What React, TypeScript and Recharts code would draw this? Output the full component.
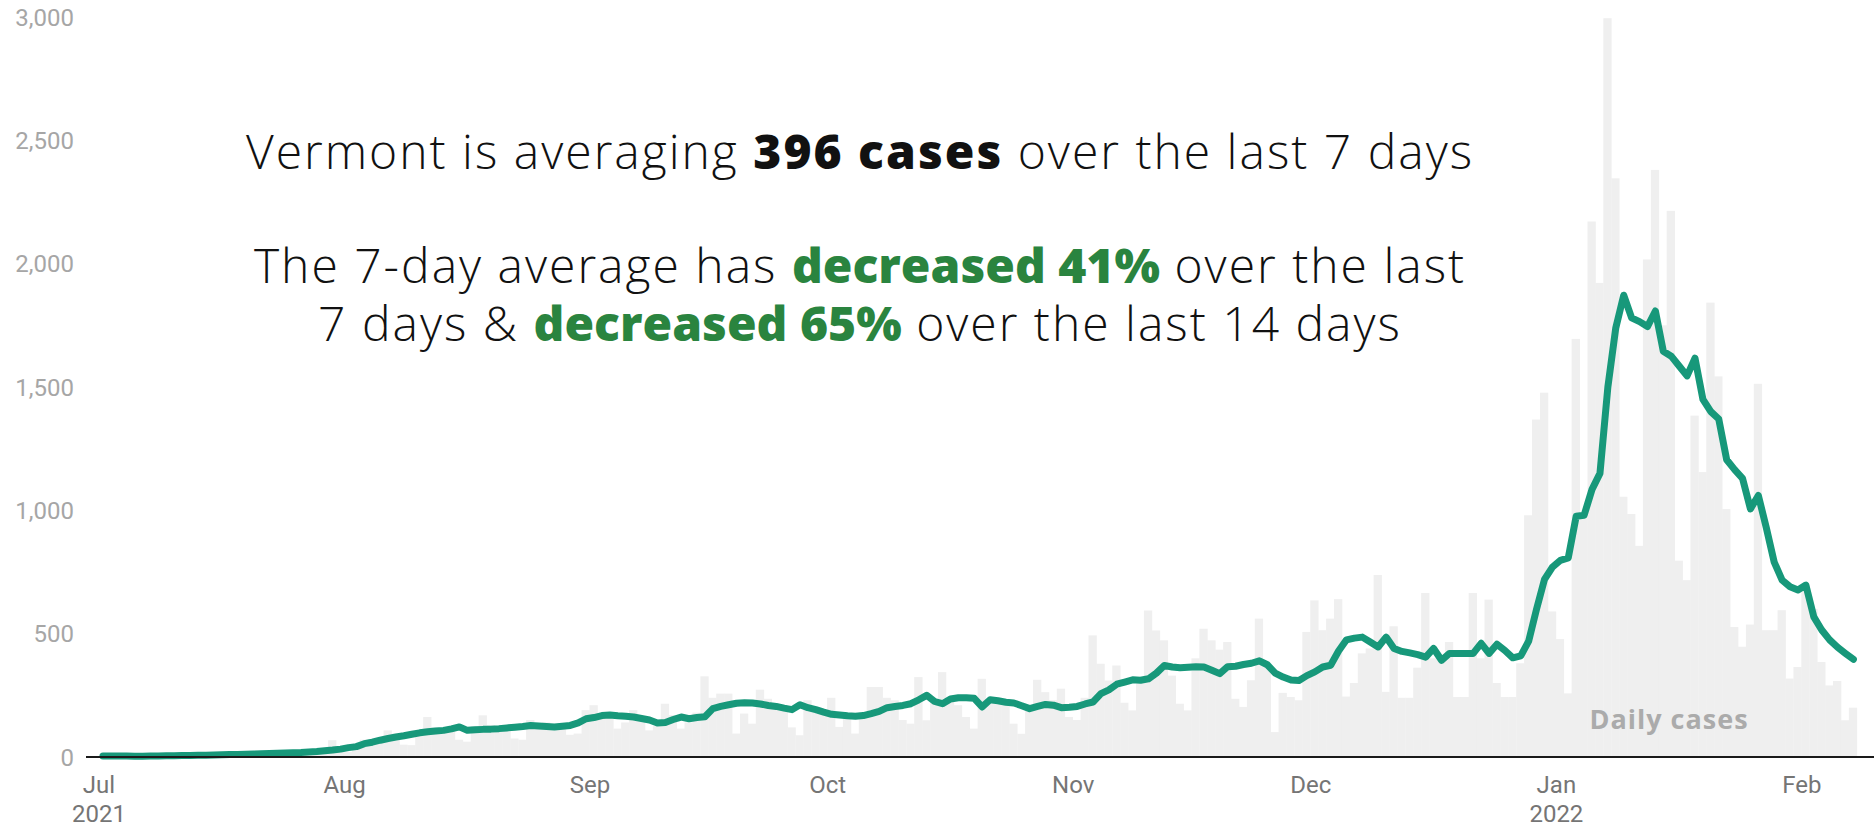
import React from 'react';
import { ComposedChart, Bar, Line, XAxis, YAxis } from 'recharts';

// Daily cases, Vermont, Jul 1 2021 -> Feb 7 2022
const dailyJul = [5, 8, 3, 2, 1, 4, 6, 5, 7, 4, 3, 2, 9, 10, 12, 8, 10, 5, 4, 16, 15, 14, 18, 20, 9, 6, 28, 30, 32, 68, 30];
const dailyAug = [20, 45, 70, 72, 65, 108, 95, 50, 48, 110, 162, 120, 115, 105, 70, 62, 125, 169, 130, 120, 110, 75, 70, 150, 115, 140, 128, 120, 90, 95, 190];
const dailySep = [210, 175, 160, 115, 140, 190, 150, 108, 125, 216, 170, 115, 140, 180, 327, 240, 257, 257, 95, 176, 135, 273, 236, 215, 200, 120, 88, 230, 190, 175];
const dailyOct = [240, 122, 160, 95, 180, 284, 284, 240, 230, 150, 135, 324, 149, 230, 344, 240, 210, 162, 115, 317, 230, 225, 210, 135, 94, 200, 313, 263, 230, 277, 162];
const dailyNov = [150, 240, 493, 378, 310, 371, 220, 189, 300, 594, 513, 473, 330, 216, 189, 400, 520, 473, 435, 466, 236, 203, 311, 561, 380, 101, 260, 243, 230, 507];
const dailyDec = [635, 514, 561, 640, 245, 300, 420, 440, 738, 264, 530, 240, 240, 362, 665, 400, 405, 466, 243, 243, 665, 400, 638, 300, 243, 243, 380, 980, 1368, 1477, 590];
const dailyJan = [478, 258, 1695, 985, 2171, 1922, 2995, 2346, 1055, 985, 856, 2017, 2380, 1750, 2214, 796, 717, 1384, 1155, 1842, 1543, 1005, 527, 447, 537, 1513, 514, 514, 595, 318, 365];
const dailyFeb = [697, 600, 385, 290, 308, 149, 200];

// 7-day average
const avgJul = [4, 4, 4, 4, 3, 3, 4, 4, 5, 5, 6, 6, 7, 7, 8, 9, 10, 10, 11, 12, 13, 14, 15, 16, 17, 18, 20, 22, 25, 28, 32];
const avgAug = [38, 42, 54, 60, 68, 75, 81, 86, 92, 98, 102, 105, 108, 114, 122, 108, 110, 112, 113, 115, 118, 121, 124, 128, 126, 124, 122, 125, 128, 138, 155];
const avgSep = [160, 168, 170, 167, 165, 162, 156, 150, 138, 140, 152, 162, 155, 160, 163, 196, 205, 212, 218, 220, 219, 215, 209, 205, 198, 192, 212, 200, 192, 182];
const avgOct = [173, 170, 167, 165, 168, 176, 185, 200, 205, 209, 216, 232, 250, 225, 216, 235, 240, 240, 238, 203, 232, 228, 222, 219, 208, 196, 205, 213, 210, 200, 202];
const avgNov = [205, 215, 223, 257, 272, 295, 304, 313, 311, 317, 340, 371, 365, 362, 364, 366, 365, 352, 338, 366, 368, 375, 380, 390, 374, 340, 324, 312, 310, 330];
const avgDec = [345, 365, 372, 430, 475, 482, 486, 466, 446, 486, 440, 428, 422, 415, 405, 440, 392, 420, 420, 420, 420, 461, 420, 457, 432, 402, 410, 470, 600, 720, 770];
const avgJan = [797, 807, 976, 980, 1085, 1150, 1500, 1740, 1872, 1780, 1765, 1745, 1808, 1645, 1625, 1585, 1545, 1617, 1450, 1400, 1370, 1205, 1165, 1130, 1006, 1060, 930, 790, 717, 690, 677];
const avgFeb = [697, 568, 515, 475, 445, 420, 396];

const monthLabels = ['Jul', 'Aug', 'Sep', 'Oct', 'Nov', 'Dec', 'Jan', 'Feb'];
const yearLabels: Record<string, string> = { Jul: '2021', Jan: '2022' };
const yTicks = [0, 500, 1000, 1500, 2000, 2500, 3000];

const dailyMonths = [dailyJul, dailyAug, dailySep, dailyOct, dailyNov, dailyDec, dailyJan, dailyFeb];
const avgMonths = [avgJul, avgAug, avgSep, avgOct, avgNov, avgDec, avgJan, avgFeb];

const daily = dailyMonths.flat();
const avg = avgMonths.flat();
const data = daily.map((cases, i) => ({ day: i, cases, avg: avg[i] }));

// month boundaries (a tick sits at the left edge of the 1st of each month)
const monthTicks: number[] = [];
dailyMonths.reduce((start, m) => {
  monthTicks.push(start - 0.5);
  return start + m.length;
}, 0);

const MonthTick = ({ x, y, payload }: any) => {
  const label = monthLabels[monthTicks.indexOf(payload.value)];
  const year = yearLabels[label];
  return (
    <g fontFamily="Roboto" fontSize={24} fill="#757575" textAnchor="middle">
      <text x={x} y={y + 28}>{label}</text>
      {year && <text x={x} y={y + 57}>{year}</text>}
    </g>
  );
};

// bars touch each other, like a stepped area
const BAR_W = 8.3;
const WideBar = (props: any) => {
  const { x, y, width, height, fill } = props;
  if (!height || height <= 0) return null;
  const cx = x + width / 2;
  return <rect x={cx - BAR_W / 2} y={y} width={BAR_W} height={height} fill={fill} />;
};

const green = '#2a843f';
const textFont = '"Open Sans", sans-serif';
const greenBold = { color: green, fontWeight: 800, letterSpacing: 0 };

export default function App() {
  return (
    <div style={{ position: 'absolute', left: 0, top: 0, width: 1874, height: 827, background: '#fff', overflow: 'hidden' }}>
      <ComposedChart
        width={1874}
        height={827}
        data={data}
        margin={{ top: 17, right: 0, left: 0, bottom: 0 }}
      >
        <XAxis
          type="number"
          dataKey="day"
          domain={[-2.14, 223.6]}
          allowDataOverflow
          ticks={monthTicks}
          interval={0}
          tick={<MonthTick />}
          tickLine={false}
          axisLine={{ stroke: '#1a1a1a', strokeWidth: 2 }}
          height={70}
        />
        <YAxis
          domain={[0, 3000]}
          ticks={yTicks}
          interval={0}
          axisLine={false}
          tickLine={false}
          width={86}
          tickMargin={6}
          tickFormatter={(v: number) => v.toLocaleString('en-US')}
          tick={{ fill: '#a6a6a6', fontSize: 24, fontFamily: 'Roboto' }}
        />
        <Bar dataKey="cases" fill="#efefef" barSize={8} shape={<WideBar />} isAnimationActive={false} />
        <Line
          type="linear"
          dataKey="avg"
          stroke="#17987a"
          strokeWidth={7}
          strokeLinecap="round"
          strokeLinejoin="round"
          dot={false}
          activeDot={false}
          isAnimationActive={false}
        />
      </ComposedChart>

      <div style={{ position: 'absolute', left: 0, top: 0, width: 1720, height: 400, textAlign: 'center', fontFamily: textFont, fontSize: 48, fontWeight: 300, letterSpacing: 2, color: '#111', lineHeight: '52px' }}>
        <div style={{ position: 'absolute', top: 125, width: '100%' }}>
          Vermont is averaging <b style={{ fontWeight: 800, letterSpacing: 2 }}>396 cases</b> over the last 7 days
        </div>
        <div style={{ position: 'absolute', top: 239, width: '100%' }}>
          The 7-day average has <b style={greenBold}>decreased 41%</b> over the last
        </div>
        <div style={{ position: 'absolute', top: 297, width: '100%' }}>
          7 days &amp; <b style={greenBold}>decreased 65%</b> over the last 14 days
        </div>
      </div>

      <div style={{ position: 'absolute', left: 1569, width: 200, top: 703, textAlign: 'center', fontFamily: textFont, fontWeight: 700, fontSize: 27, letterSpacing: 1, color: '#ababab', lineHeight: '32px' }}>
        Daily cases
      </div>
    </div>
  );
}
